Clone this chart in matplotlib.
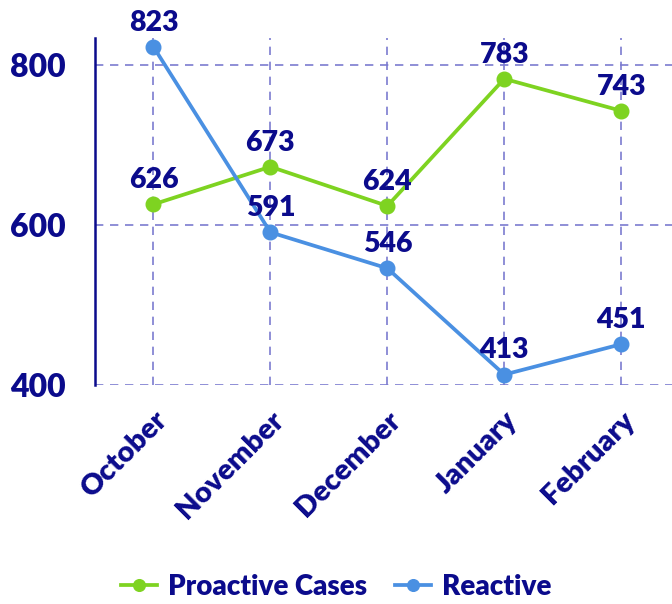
import matplotlib
matplotlib.use('Agg')
import matplotlib.pyplot as plt

# data
months = ['October', 'November', 'December', 'January', 'February']
proactive = [626, 673, 624, 783, 743]
reactive = [823, 591, 546, 413, 451]

navy = '#0b0b8c'
green = '#7ed321'
blue = '#4a90e2'
gridc = '#7b7bd0'

plt.rcParams['font.family'] = ['Lato', 'DejaVu Sans']
plt.rcParams['font.weight'] = 'heavy'

fig = plt.figure(figsize=(6.72, 6.04), dpi=100)
ax = fig.add_axes([0.1414, 0.3626, 0.87, 0.5744])

x = list(range(len(months)))
ax.plot(x, proactive, '-o', color=green, lw=2.7, ms=10.5, label='Proactive Cases', zorder=3)
ax.plot(x, reactive, '-o', color=blue, lw=2.7, ms=10.5, label='Reactive', zorder=3)

for xs, ys in [(x, proactive), (x, reactive)]:
    for xi, yi in zip(xs, ys):
        ax.annotate(str(yi), (xi, yi), xytext=(0, 8), textcoords='offset points',
                    ha='center', va='bottom', fontsize=20.5, fontweight='heavy', color=navy, zorder=4)

ax.set_xlim(-0.5, 4.5)
ax.set_ylim(400, 834)
ax.set_yticks([400, 600, 800])
ax.set_xticks(x)
ax.set_xticklabels(months, rotation=45, ha='right', rotation_mode='anchor')
ax.tick_params(axis='both', length=0, colors=navy)
ax.tick_params(axis='x', pad=16, labelsize=21)
ax.tick_params(axis='y', pad=21, labelsize=23)

ax.grid(True, color=gridc, linestyle=(0, (5, 4)), lw=1.2)
for s in ['top', 'right', 'bottom']:
    ax.spines[s].set_visible(False)
ax.spines['left'].set_color(navy)
ax.spines['left'].set_linewidth(1.8)

leg = fig.legend(loc='center', bbox_to_anchor=(0.5, 0.028), ncol=2, frameon=False,
                 fontsize=20, handlelength=1.3, columnspacing=1.0, handletextpad=0.4,
                 markerscale=0.8)
for t in leg.get_texts():
    t.set_color(navy)

fig.savefig('out.png', dpi=100)
